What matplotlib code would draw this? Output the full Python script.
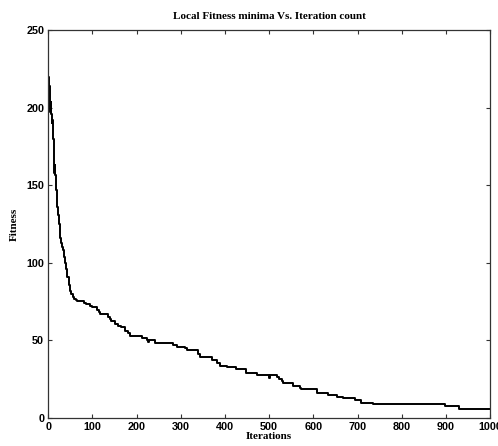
import matplotlib
matplotlib.use("Agg")
import matplotlib.pyplot as plt

# step points of the best fitness found so far
iterations = [
    0, 1, 2, 3, 4, 5, 6, 7, 8, 9, 10, 11, 12, 13, 14, 15, 16, 17, 18, 19, 20,
    22, 24, 26, 28, 30, 32, 34, 36, 38, 40, 43, 46, 49, 52, 55, 58, 62,
    64, 80, 86, 95, 99, 110, 115, 117, 136, 140, 143, 150, 158, 164, 174,
    181, 185, 211, 223, 226, 229, 241, 283, 291, 309, 313, 340, 343, 370,
    381, 389, 404, 426, 447, 472, 500, 502, 517, 522, 528, 532, 555, 570,
    573, 608, 634, 653, 668, 694, 709, 736, 898, 930, 1000,
]
fitness = [
    220, 212, 214, 205, 197, 204, 199, 196, 190, 192, 187, 180, 176, 166,
    158, 163, 157, 150, 147, 140, 136,
    131, 125, 116, 113, 112, 110, 108, 104, 100, 96, 91, 86, 82, 80, 78,
    77, 76,
    75.6, 74.3, 73.4, 72.3, 71.3, 69.6, 68, 66.8, 65.3, 63.8, 62.7, 60.4,
    59.5, 58.4, 56, 54.6, 53, 51.7, 50, 49, 50.5, 48.5, 47, 45.9, 44.9,
    43.8, 41.5, 39.5, 37.4, 35.2, 33.7, 32.6, 31.6, 28.8, 27.7, 26, 27.7,
    26.5, 24.9, 23.5, 22.3, 20.6, 19.5, 18.5, 15.9, 14.8, 13.7, 12.7, 11.6,
    9.9, 8.8, 7.7, 5.8, 5.8,
]

xticks = list(range(0, 1001, 100))
yticks = list(range(0, 251, 50))

fig = plt.figure(figsize=(4.98, 4.46), dpi=100)
ax = fig.add_axes([0.097, 0.063, 0.887, 0.869])

ax.plot(iterations, fitness, color="black", lw=1.4, drawstyle="steps-post")

ax.set_xlim(0, 1000)
ax.set_ylim(0, 250)
ax.set_xticks(xticks)
ax.set_yticks(yticks)
ax.tick_params(direction="in", length=3, width=0.8, top=True, right=True,
               labelsize=7.8, pad=3, color="#333333")
for lab in ax.get_xticklabels() + ax.get_yticklabels():
    lab.set_family("Liberation Sans")
    lab.set_fontweight("bold")
for sp in ax.spines.values():
    sp.set_linewidth(0.9)
    sp.set_color("#333333")

ax.set_title("Local Fitness minima Vs. Iteration count", family="Liberation Serif",
             fontweight="bold", fontsize=8, pad=8)
ax.set_xlabel("Iterations", family="Liberation Serif", fontweight="bold",
              fontsize=8, labelpad=0)
ax.set_ylabel("Fitness", family="Liberation Serif", fontweight="bold",
              fontsize=8, labelpad=5)

fig.savefig("out.png", dpi=100)
